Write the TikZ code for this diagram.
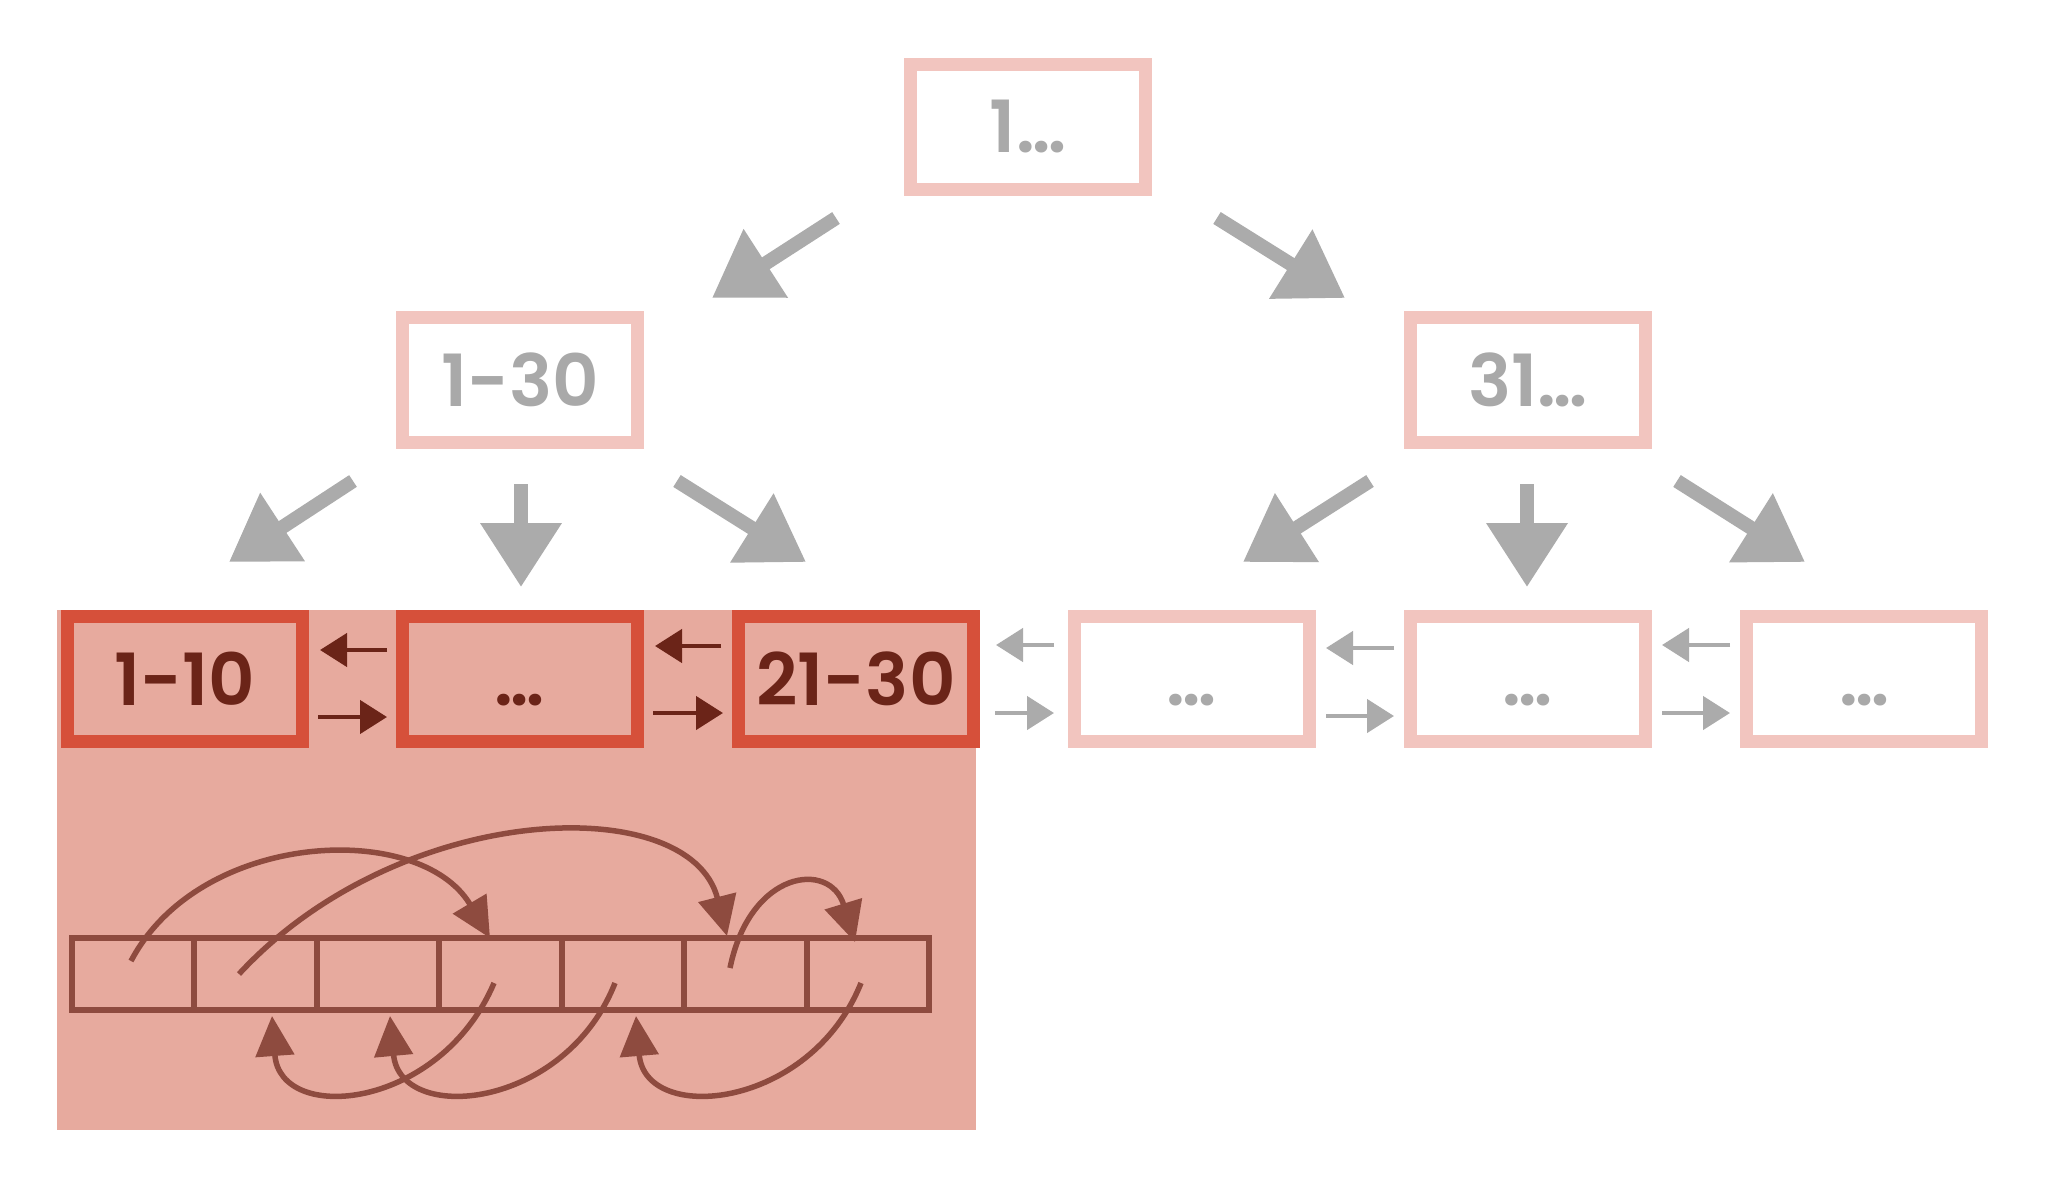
\documentclass[tikz,border=0pt]{standalone}
\usepackage{fontspec}
\newfontfamily\pop{Poppins SemiBold}
\usetikzlibrary{arrows.meta}
\definecolor{shadefill}{HTML}{E7AA9E}
\definecolor{hotred}{HTML}{D6503A}
\definecolor{lightpink}{HTML}{F2C5BF}
\definecolor{darktext}{HTML}{6B2418}
\definecolor{gtext}{HTML}{A9A9A9}
\definecolor{garrowc}{HTML}{ABABAB}
\definecolor{arr}{HTML}{8E4B3F}
\tikzset{
  box/.style={minimum width=235pt, minimum height=125pt, inner sep=0pt, line width=13pt,
    font=\pop\fontsize{72}{80}\selectfont},
  hot/.style={box, draw=hotred, fill=shadefill, text=darktext},
  cold/.style={box, draw=lightpink, fill=white, text=gtext},
  treearrow/.style={draw=garrowc, line width=14pt, -{Triangle[length=64pt,width=78pt]}},
  hdark/.style={draw=darktext, line width=4.5pt, -{Triangle[length=27pt,width=33pt]}},
  hgray/.style={draw=garrowc, line width=4.5pt, -{Triangle[length=27pt,width=33pt]}},
  cell/.style={draw=arr, line width=6pt, minimum width=122.4pt, minimum height=72pt, inner sep=0pt},
  curvearrow/.style={draw=arr, line width=5.5pt, -{Triangle[length=40pt,width=38pt]}},
}
\begin{document}
\begin{tikzpicture}[x=1pt,y=-1pt]
\useasboundingbox[fill=white] (0,0) rectangle (2048,1186);
% shaded region
\fill[shadefill] (57,610) rectangle (976,1130);
% tree nodes
\node[cold] (top) at (1028,127) {\vphantom{1}1…};
\node[cold] (l) at (520,380) {\vphantom{1}1-30};
\node[cold] (r) at (1528,380) {\vphantom{1}31…};
% leaf row
\node[hot] (b1) at (185,679) {\vphantom{1}1-10};
\node[hot] (b2) at (520,679) {\vphantom{1}…};
\node[hot] (b3) at (856,679) {\vphantom{1}21-30};
\node[cold] (b4) at (1192,679) {\vphantom{1}…};
\node[cold] (b5) at (1528,679) {\vphantom{1}…};
\node[cold] (b6) at (1864,679) {\vphantom{1}…};
% tree arrow ends
\coordinate (a1s) at (836,218); \coordinate (a1e) at (712,298);
\coordinate (a2s) at (1217,218); \coordinate (a2e) at (1345,298);
\coordinate (a3s) at (353,481); \coordinate (a3e) at (229,562);
\coordinate (a4s) at (521,484); \coordinate (a4e) at (521,587);
\coordinate (a5s) at (677,481); \coordinate (a5e) at (806,562);
\coordinate (a6s) at (1370,481); \coordinate (a6e) at (1243,562);
\coordinate (a7s) at (1527,484); \coordinate (a7e) at (1527,587);
\coordinate (a8s) at (1677,481); \coordinate (a8e) at (1805,562);
\foreach \i in {1,...,8} {\draw[treearrow] (a\i s) -- (a\i e);}
% horizontal arrows
\draw[hdark] ([yshift=29pt,xshift=-9pt]b2.west) -- ([yshift=29pt,xshift=11pt]b1.east);
\draw[hdark] ([yshift=-38pt,xshift=9pt]b1.east) -- ([yshift=-38pt,xshift=-9pt]b2.west);
\draw[hdark] ([yshift=33pt,xshift=-11pt]b3.west) -- ([yshift=33pt,xshift=11pt]b2.east);
\draw[hdark] ([yshift=-34pt,xshift=9pt]b2.east) -- ([yshift=-34pt,xshift=-9pt]b3.west);
\draw[hgray] ([yshift=34pt,xshift=-14pt]b4.west) -- ([yshift=34pt,xshift=16pt]b3.east);
\draw[hgray] ([yshift=-34pt,xshift=15pt]b3.east) -- ([yshift=-34pt,xshift=-14pt]b4.west);
\draw[hgray] ([yshift=31pt,xshift=-10pt]b5.west) -- ([yshift=31pt,xshift=10pt]b4.east);
\draw[hgray] ([yshift=-37pt,xshift=10pt]b4.east) -- ([yshift=-37pt,xshift=-10pt]b5.west);
\draw[hgray] ([yshift=34pt,xshift=-10pt]b6.west) -- ([yshift=34pt,xshift=10pt]b5.east);
\draw[hgray] ([yshift=-34pt,xshift=10pt]b5.east) -- ([yshift=-34pt,xshift=-10pt]b6.west);
% array cells
\foreach \k in {1,...,7} {
  \node[cell] (c\k) at ({72+122.43*(\k-0.5)},974) {};
}
% curves above
\draw[curvearrow] (131,961) .. controls (200,830) and (420,820) .. (490,938);
\draw[curvearrow] (239,974) .. controls (400,800) and (690,790) .. (727,936);
\draw[curvearrow] (730,968) .. controls (750,870) and (830,860) .. (855,942);
% curves below
\draw[curvearrow] (494,983) .. controls (440,1110) and (280,1125) .. (272,1016);
\draw[curvearrow] (615,983) .. controls (565,1110) and (400,1125) .. (390,1016);
\draw[curvearrow] (861,983) .. controls (810,1110) and (645,1125) .. (636,1016);
\end{tikzpicture}
\end{document}
